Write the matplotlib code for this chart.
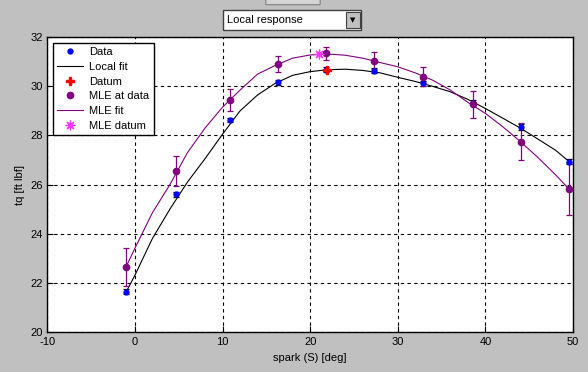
import numpy as np
import matplotlib
matplotlib.use("Agg")
import matplotlib.pyplot as plt
from matplotlib.patches import Rectangle, FancyBboxPatch

# data
spark = [-1.0, 4.7, 10.86, 16.34, 21.78, 27.26, 32.89, 38.6, 44.04, 49.5]
tq = [21.63, 25.61, 28.63, 30.17, 30.67, 30.63, 30.13, 29.34, 28.36, 26.93]
tq_err = [0.1, 0.1, 0.1, 0.1, 0.1, 0.1, 0.1, 0.1, 0.12, 0.1]

mle_tq = [22.65, 26.56, 29.45, 30.91, 31.35, 31.05, 30.40, 29.27, 27.75, 25.83]
mle_err = [0.77, 0.62, 0.44, 0.33, 0.27, 0.34, 0.38, 0.55, 0.77, 1.09]

datum_x, datum_y = 21.9, 30.68
mle_datum_x, mle_datum_y = 21.05, 31.31

fit_x = [-1, 0, 2, 4, 6, 8, 10, 12, 14, 16, 18, 20, 22, 24, 26, 28, 30, 32,
         34, 36, 38, 40, 42, 44, 46, 48, 49.5]
local_fit = [21.62, 22.3, 23.8, 25.0, 26.1, 27.05, 28.05, 29.0, 29.65, 30.12,
             30.45, 30.6, 30.68, 30.7, 30.65, 30.55, 30.37, 30.2, 30.0, 29.78,
             29.47, 29.1, 28.7, 28.3, 27.85, 27.4, 26.95]
mle_fit = [22.65, 23.4, 24.85, 26.0, 27.3, 28.3, 29.15, 29.85, 30.5, 30.85,
           31.15, 31.28, 31.32, 31.27, 31.15, 30.97, 30.8, 30.55, 30.25, 29.85,
           29.35, 28.9, 28.35, 27.75, 27.1, 26.4, 25.83]

x_ticks = [-10, 0, 10, 20, 30, 40, 50]
y_ticks = [20, 22, 24, 26, 28, 30, 32]

plt.rcParams['font.family'] = ['Liberation Sans', 'DejaVu Sans']
plt.rcParams['font.size'] = 8
plt.rcParams['axes.unicode_minus'] = False

purple = '#800080'
bg = '#c0c0c0'

fig = plt.figure(figsize=(5.88, 3.72), dpi=100)
fig.patch.set_facecolor(bg)
ax = fig.add_axes([0.0804, 0.1083, 0.8941, 0.7914])

# fits
ax.plot(fit_x, local_fit, color='black', lw=0.8, label='Local fit', zorder=3)
ax.plot(fit_x, mle_fit, color=purple, lw=0.8, label='MLE fit', zorder=3)

# error bars
ax.errorbar(spark, tq, yerr=tq_err, fmt='none', ecolor='black', elinewidth=0.9,
            capsize=2.5, capthick=0.9, zorder=4)
ax.errorbar(spark, mle_tq, yerr=mle_err, fmt='none', ecolor=purple, elinewidth=0.9,
            capsize=2.5, capthick=0.9, zorder=4)

# markers
ax.plot(spark, tq, 'o', color='blue', ms=3.5, label='Data', zorder=5)
ax.plot([datum_x], [datum_y], 'P', color='red', ms=6, label='Datum', zorder=6)
ax.plot(spark, mle_tq, 'o', color=purple, ms=4.5, label='MLE at data', zorder=5)
ax.plot([mle_datum_x], [mle_datum_y], marker=(8, 2, 0), color='#ff33ff', ms=7,
        linestyle='none', markeredgewidth=0.9, label='MLE datum', zorder=6)

ax.set_xlim(-10, 50)
ax.set_ylim(20, 32)
ax.set_xticks(x_ticks)
ax.set_yticks(y_ticks)
ax.grid(True, color='black', linestyle=(0, (3, 3)), linewidth=0.8)
ax.tick_params(direction='in', length=4, color='black', labelsize=8)
ax.tick_params(axis='x', pad=4)
ax.tick_params(axis='y', pad=3)
for s in ax.spines.values():
    s.set_linewidth(1)
ax.set_xlabel('spark (S) [deg]', fontsize=8, labelpad=4)
ax.set_ylabel('tq [ft lbf]', fontsize=8, labelpad=4)

# legend in matlab order
h, l = ax.get_legend_handles_labels()
order = ['Data', 'Local fit', 'Datum', 'MLE at data', 'MLE fit', 'MLE datum']
hs = [h[l.index(o)] for o in order]
leg = ax.legend(hs, order, loc='upper left', fontsize=8, frameon=True,
                fancybox=False, edgecolor='black', framealpha=1,
                borderaxespad=0.55, handlelength=2.3, handletextpad=0.6,
                labelspacing=0.42, borderpad=0.35)
leg.get_frame().set_linewidth(1)

# dropdown box on top
fig.patches.append(Rectangle((223 / 588, 1 - 30 / 372), 138 / 588, 20 / 372,
                             transform=fig.transFigure, facecolor='white',
                             edgecolor='#404040', lw=1))
fig.patches.append(Rectangle((346 / 588, 1 - 28 / 372), 14 / 588, 16 / 372,
                             transform=fig.transFigure, facecolor=bg,
                             edgecolor='#404040', lw=0.8))
fig.text(227 / 588, 1 - 20 / 372, 'Local response', ha='left', va='center',
         fontsize=8)
fig.text(353 / 588, 1 - 20 / 372, '\u25bc', ha='center', va='center',
         fontsize=5, family=['DejaVu Sans'])
# small tab at the very top
fig.patches.append(FancyBboxPatch((267 / 588, 1 - 4 / 372), 52 / 588, 8 / 372,
                                  boxstyle='round,pad=0.002',
                                  transform=fig.transFigure, facecolor='#d4d4d4',
                                  edgecolor='#808080', lw=0.8))

fig.savefig('out.png', dpi=100, facecolor=bg)
